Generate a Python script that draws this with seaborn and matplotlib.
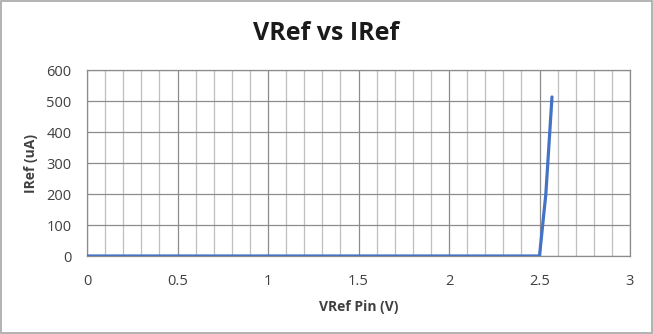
import matplotlib
matplotlib.use("Agg")
import matplotlib.pyplot as plt
import seaborn as sns
import pandas as pd
from matplotlib.patches import Rectangle
from matplotlib.ticker import MultipleLocator

vref_pin = [0.0, 0.5, 1.0, 1.5, 2.0, 2.4, 2.5, 2.535, 2.569]
iref_ua = [0, 0, 0, 0, 0, 0, 0, 200, 513]
x_ticks = [0, 0.5, 1, 1.5, 2, 2.5, 3]
x_tick_labels = ["0", "0.5", "1", "1.5", "2", "2.5", "3"]
y_ticks = [0, 100, 200, 300, 400, 500, 600]

sns.set_style("white")
plt.rcParams['font.family'] = ['Open Sans', 'DejaVu Sans']

fig = plt.figure(figsize=(6.53, 3.34), dpi=100)
ax = fig.add_axes([87/653, 1-256/334, (630-87)/653, (256-70)/334])

df = pd.DataFrame({"VRef Pin (V)": vref_pin, "IRef (uA)": iref_ua})
sns.lineplot(data=df, x="VRef Pin (V)", y="IRef (uA)", ax=ax, color="#4472C4",
             linewidth=2.3, zorder=5)

ax.set_xlim(0, 3)
ax.set_ylim(0, 600)
ax.set_xticks(x_ticks)
ax.set_xticklabels(x_tick_labels)
ax.set_yticks(y_ticks)
ax.xaxis.set_minor_locator(MultipleLocator(0.1))
ax.grid(which="major", axis="both", color="#8C8C8C", linewidth=0.9)
ax.grid(which="minor", axis="x", color="#BFBFBF", linewidth=0.9)
ax.set_axisbelow(True)
for s in ax.spines.values():
    s.set_color("#8C8C8C")
    s.set_linewidth(0.9)
ax.tick_params(which="both", length=0, labelsize=10.5, labelcolor="#404040")
ax.tick_params(axis="x", pad=13)
ax.tick_params(axis="y", pad=11)

ax.set_xlabel("VRef Pin (V)", fontsize=10, fontweight="bold", color="#404040", labelpad=8)
ax.set_ylabel("IRef (uA)", fontsize=10, fontweight="bold", color="#404040", labelpad=6)

fig.text(0.5, 1-33/334, "VRef vs IRef", ha="center", va="center",
         fontsize=18, fontweight="bold", color="#1a1a1a")

fig.patches.append(Rectangle((0.001, 0.002), 0.997, 0.995, transform=fig.transFigure,
                             fill=False, edgecolor="#A6A6A6", linewidth=1.2))

fig.savefig("out.png", dpi=100)
